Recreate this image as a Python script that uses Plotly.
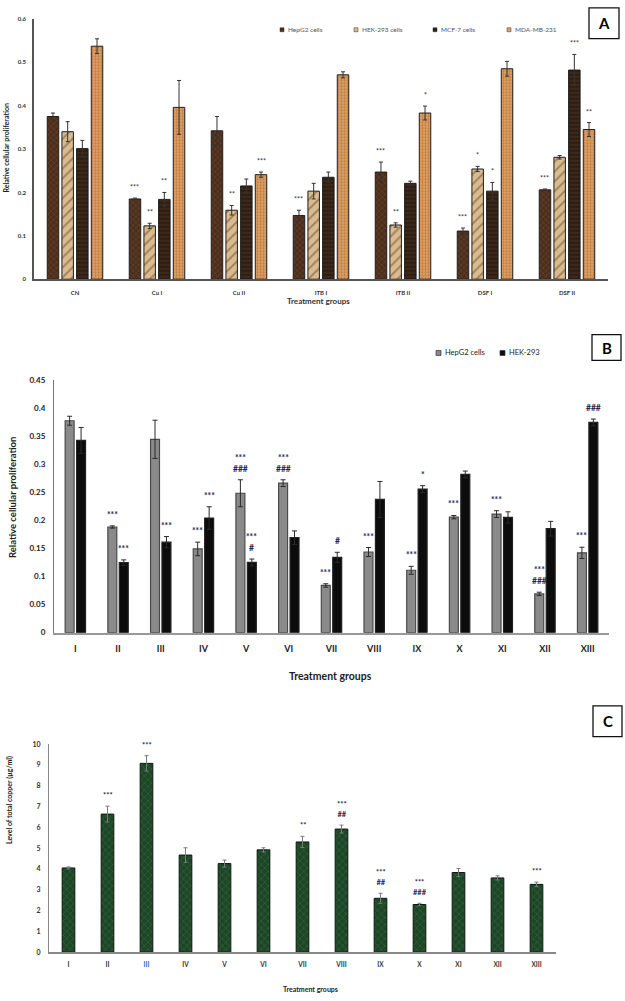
import plotly.graph_objects as go

W, H = 625, 1001
FONT = "Lato, 'Open Sans', Arial, sans-serif"

# ---------------- Panel A data ----------------
a_groups = ["CN", "Cu I", "Cu II", "ITB I", "ITB II", "DSF I", "DSF II"]
a_names = ["HepG2 cells", "HEK-293 cells", "MCF-7 cells", "MDA-MB-231"]
a_hepg2 = [0.375, 0.185, 0.342, 0.147, 0.247, 0.111, 0.206]
a_hepg2_err = [0.008, 0.002, 0.033, 0.012, 0.023, 0.007, 0.002]
a_hek = [0.340, 0.123, 0.159, 0.203, 0.125, 0.254, 0.281]
a_hek_err = [0.023, 0.006, 0.011, 0.018, 0.005, 0.006, 0.004]
a_mcf = [0.301, 0.184, 0.215, 0.235, 0.221, 0.203, 0.482]
a_mcf_err = [0.019, 0.016, 0.016, 0.012, 0.005, 0.020, 0.036]
a_mda = [0.537, 0.396, 0.241, 0.471, 0.383, 0.485, 0.345]
a_mda_err = [0.017, 0.062, 0.006, 0.007, 0.016, 0.017, 0.016]
a_hepg2_sig = ["", "***", "", "***", "***", "***", "***"]
a_hek_sig = ["", "**", "**", "", "**", "*", ""]
a_mcf_sig = ["", "**", "", "", "", "*", "***"]
a_mda_sig = ["", "", "***", "", "*", "", "**"]
a_ticks = [0, 0.1, 0.2, 0.3, 0.4, 0.5, 0.6]

# ---------------- Panel B data ----------------
b_groups = ["I", "II", "III", "IV", "V", "VI", "VII", "VIII", "IX", "X", "XI", "XII", "XIII"]
b_names = ["HepG2 cells", "HEK-293"]
b_hepg2 = [0.377, 0.188, 0.344, 0.149, 0.248, 0.266, 0.084, 0.1435, 0.111, 0.2055, 0.211, 0.069, 0.142]
b_hepg2_err = [0.008, 0.002, 0.034, 0.012, 0.024, 0.006, 0.003, 0.008, 0.007, 0.003, 0.006, 0.003, 0.010]
b_hek = [0.342, 0.1245, 0.161, 0.204, 0.125, 0.169, 0.134, 0.237, 0.2555, 0.2815, 0.205, 0.185, 0.374]
b_hek_err = [0.023, 0.005, 0.010, 0.020, 0.006, 0.012, 0.009, 0.032, 0.006, 0.006, 0.010, 0.013, 0.006]
b_hepg2_sig = ["", "***", "", "***", "***<br>###", "***<br>###", "***", "***", "***", "***", "***", "***<br>###", "***"]
b_hek_sig = ["", "***", "***", "***", "***<br>#", "", "#", "", "*", "", "", "", "###"]
b_ticks = [0, 0.05, 0.1, 0.15, 0.2, 0.25, 0.3, 0.35, 0.4, 0.45]

# ---------------- Panel C data ----------------
c_groups = ["I", "II", "III", "IV", "V", "VI", "VII", "VIII", "IX", "X", "XI", "XII", "XIII"]
c_copper = [4.05, 6.64, 9.08, 4.67, 4.26, 4.92, 5.30, 5.92, 2.59, 2.29, 3.83, 3.57, 3.26]
c_copper_err = [0.05, 0.38, 0.37, 0.35, 0.17, 0.10, 0.27, 0.19, 0.24, 0.06, 0.19, 0.10, 0.11]
c_sig = ["", "***", "***", "", "", "", "**", "***<br>##", "***<br>##", "***<br>###", "", "", "***"]
c_ticks = [0, 1, 2, 3, 4, 5, 6, 7, 8, 9, 10]


def px(x):
    return x / W


def py(y):
    return 1 - y / H


fig = go.Figure()
annotations = []
shapes = []

# ---------------- Panel A ----------------
a_styles = [
    dict(color="#4b2e1c", pat="x", fg="#80593a", size=4, sol=0.3),
    dict(color="#d9bb8f", pat="/", fg="#5c3d22", size=7, sol=0.25),
    dict(color="#2f1e12", pat="-", fg="#6b5540", size=4, sol=0.2),
    dict(color="#e0a266", pat=".", fg="#9c5a28", size=3, sol=0.45),
]
a_vals = [a_hepg2, a_hek, a_mcf, a_mda]
a_errs = [a_hepg2_err, a_hek_err, a_mcf_err, a_mda_err]
a_sigs = [a_hepg2_sig, a_hek_sig, a_mcf_sig, a_mda_sig]
a_slot, a_width = 0.179, 0.14
for k in range(4):
    st = a_styles[k]
    center = (k - 1.5) * a_slot
    fig.add_trace(go.Bar(
        x=a_groups, y=a_vals[k], name=a_names[k], xaxis="x", yaxis="y",
        width=a_width, offset=center - a_width / 2, showlegend=False,
        marker=dict(color=st["color"], line=dict(color="#1e1e1e", width=1),
                    pattern=dict(shape=st["pat"], fgcolor=st["fg"], size=st["size"],
                                 solidity=st["sol"], fillmode="overlay")),
        error_y=dict(type="data", array=a_errs[k], color="#333333", thickness=1, width=2),
    ))
    for i, s in enumerate(a_sigs[k]):
        if s:
            annotations.append(dict(
                x=i + center, y=a_vals[k][i] + a_errs[k][i], xref="x", yref="y",
                text=s, showarrow=False, yanchor="bottom", yshift=5,
                font=dict(size=7, color="#2a2a40", family=FONT)))

# ---------------- Panel B ----------------
b_vals = [b_hepg2, b_hek]
b_errs = [b_hepg2_err, b_hek_err]
b_sigs = [b_hepg2_sig, b_hek_sig]
b_colors = ["#8a8a8a", "#0c0c0c"]
b_lines = ["#4a4a4a", "#222222"]
b_slot, b_width = 0.268, 0.21
for k in range(2):
    center = (k - 0.5) * b_slot
    fig.add_trace(go.Bar(
        x=b_groups, y=b_vals[k], name=b_names[k], xaxis="x2", yaxis="y2",
        width=b_width, offset=center - b_width / 2, showlegend=False,
        marker=dict(color=b_colors[k], line=dict(color=b_lines[k], width=1.2)),
        error_y=dict(type="data", array=b_errs[k], color="#2a2a2a", thickness=1, width=2.5),
    ))
    for i, s in enumerate(b_sigs[k]):
        if s:
            annotations.append(dict(
                x=i + center, y=b_vals[k][i] + b_errs[k][i], xref="x2", yref="y2",
                text=s, showarrow=False, yanchor="bottom", yshift=4,
                font=dict(size=8.5, color="#1c2650", family=FONT, weight="bold")))

# ---------------- Panel C ----------------
c_width = 0.325
fig.add_trace(go.Bar(
    x=c_groups, y=c_copper, name="Total copper", xaxis="x3", yaxis="y3",
    width=c_width, offset=-c_width / 2, showlegend=False,
    marker=dict(color="#1d4627", line=dict(color="#0e1a10", width=1),
                pattern=dict(shape="x", fgcolor="#4f8d5c", size=5, solidity=0.2,
                             fillmode="overlay")),
    error_y=dict(type="data", array=c_copper_err, color="#7a7a7a", thickness=1, width=2),
))
for i, s in enumerate(c_sig):
    if s:
        annotations.append(dict(
            x=i, y=c_copper[i] + c_copper_err[i], xref="x3", yref="y3",
            text=s, showarrow=False, yanchor="bottom", yshift=4,
            font=dict(size=7.5, color="#1c2650", family=FONT, weight="bold")))

c_ticktext = ["<span style='color:#2f6bd0'>%s</span>" % g if g == "III" else g for g in c_groups]


# ---------------- Axis titles & labels ----------------
def ann_text(text, x, y, size, color="#222", angle=0, weight="bold"):
    annotations.append(dict(
        x=px(x), y=py(y), xref="paper", yref="paper", text=text, showarrow=False,
        textangle=angle, xanchor="center", yanchor="middle",
        font=dict(size=size, color=color, family=FONT, weight=weight)))


ann_text("Relative cellular proliferation", 6, 145, 7, angle=-90)
ann_text("Treatment groups", 318, 299, 8, color="#333")
ann_text("Relative cellular proliferation", 12, 498, 9.5, angle=-90)
ann_text("Treatment groups", 330, 678, 10.5, color="#222")
ann_text("Level of total copper (µg/ml)", 10, 803, 7, angle=-90)
ann_text("Treatment groups", 310, 994, 7, color="#222")

# Panel letter boxes
for letter, (x0, y0, x1, y1) in zip(["A", "B", "C"], [(589, 3, 619, 34), (592, 333, 621, 359), (593, 708, 622, 739)]):
    shapes.append(dict(type="rect", xref="paper", yref="paper", x0=px(x0), x1=px(x1),
                       y0=py(y1), y1=py(y0), line=dict(color="#111", width=1.3), fillcolor="white"))
    ann_text(letter, (x0 + x1) / 2, (y0 + y1) / 2, 15, color="#000")

# Manual legends
a_leg_x = [280, 354, 433, 507]
for k in range(4):
    x0 = a_leg_x[k]
    shapes.append(dict(type="rect", xref="paper", yref="paper", x0=px(x0), x1=px(x0 + 4),
                       y0=py(27), y1=py(23), line=dict(color="#333", width=0.5),
                       fillcolor=a_styles[k]["color"]))
    annotations.append(dict(x=px(x0 + 6), y=py(25), xref="paper", yref="paper",
                            text=a_names[k], showarrow=False, xanchor="left", yanchor="middle",
                            font=dict(size=6.5, color="#555", family=FONT)))

b_leg_x = [436, 500]
for k in range(2):
    x0 = b_leg_x[k]
    shapes.append(dict(type="rect", xref="paper", yref="paper", x0=px(x0), x1=px(x0 + 5),
                       y0=py(354), y1=py(349), line=dict(color="#333", width=0.7),
                       fillcolor=b_colors[k]))
    annotations.append(dict(x=px(x0 + 7), y=py(351.5), xref="paper", yref="paper",
                            text=b_names[k], showarrow=False, xanchor="left", yanchor="middle",
                            font=dict(size=7.5, color="#222", family=FONT)))

axis_common = dict(showgrid=False, zeroline=False, ticks="")

fig.update_layout(
    width=W, height=H, margin=dict(l=0, r=0, t=0, b=0),
    paper_bgcolor="white", plot_bgcolor="white",
    barmode="overlay", font=dict(family=FONT),
    annotations=annotations, shapes=shapes,
    xaxis=dict(domain=[px(34), px(608)], anchor="y", type="category",
               range=[-0.5, len(a_groups) - 0.5], showline=True, linecolor="#555", linewidth=2,
               tickfont=dict(size=6, color="#333", weight="bold"), ticklabelstandoff=7,
               **axis_common),
    yaxis=dict(domain=[py(277), py(14)], anchor="x", range=[0, 0.6],
               tickvals=a_ticks, ticktext=[f"{t:g}" for t in a_ticks],
               showline=True, linecolor="#555", linewidth=1.5,
               tickfont=dict(size=6, color="#333", weight="bold"), ticklabelstandoff=5,
               **axis_common),
    xaxis2=dict(domain=[px(54), px(609)], anchor="y2", type="category",
                range=[-0.5, len(b_groups) - 0.5], showline=True, linecolor="#999", linewidth=2,
                tickfont=dict(size=9, color="#222", weight="bold"), ticklabelstandoff=7,
                **axis_common),
    yaxis2=dict(domain=[py(634), py(378.5)], anchor="x2", range=[0, 0.45],
                tickvals=b_ticks, ticktext=[f"{t:g}" for t in b_ticks],
                showline=True, linecolor="#777", linewidth=1.2,
                tickfont=dict(size=8, color="#222", weight="bold"), ticklabelstandoff=6,
                **axis_common),
    xaxis3=dict(domain=[px(49), px(556)], anchor="y3", type="category",
                range=[-0.5, len(c_groups) - 0.5], showline=True, linecolor="#888", linewidth=2,
                tickvals=c_groups, ticktext=c_ticktext,
                tickfont=dict(size=6.5, color="#333", weight="bold"), ticklabelstandoff=5,
                **axis_common),
    yaxis3=dict(domain=[py(956.7), py(746.7)], anchor="x3", range=[0, 10],
                tickvals=c_ticks, ticktext=[str(t) for t in c_ticks],
                showline=True, linecolor="#888", linewidth=1.2,
                tickfont=dict(size=7, color="#333", weight="bold"), ticklabelstandoff=6,
                **axis_common),
)

fig.write_html(
    "out.html",
    config={"displayModeBar": False},
    post_script="document.body.style.margin='0';document.body.style.overflow='hidden';",
)
